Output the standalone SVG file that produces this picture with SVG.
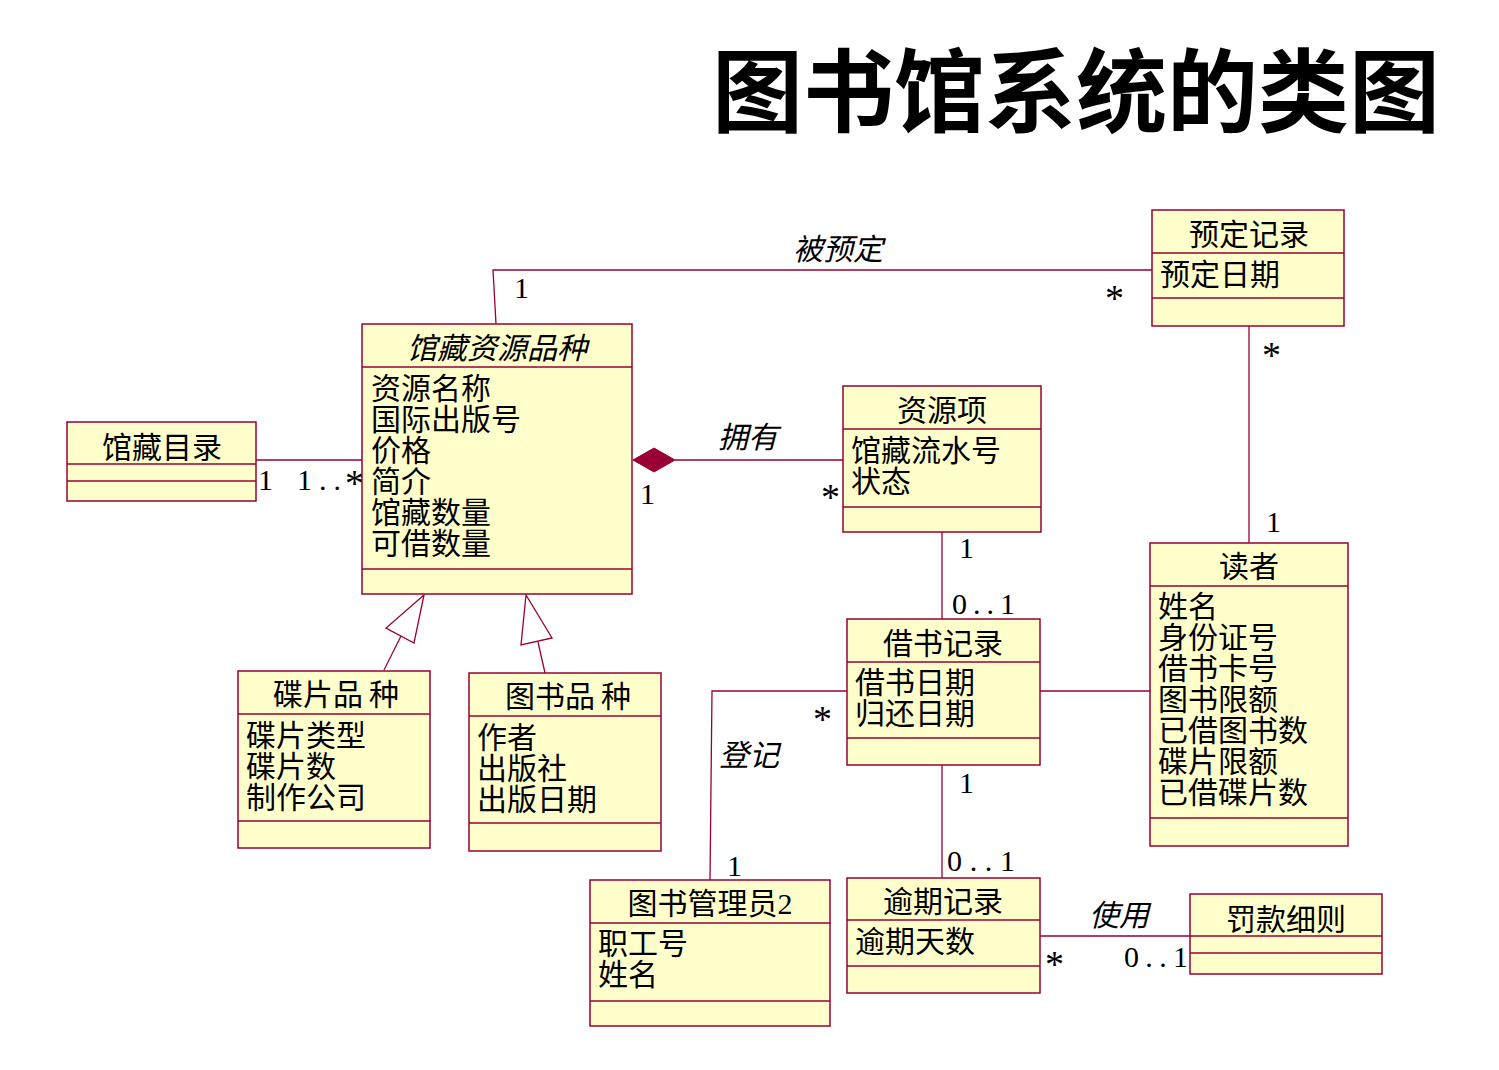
<svg xmlns="http://www.w3.org/2000/svg" width="1499" height="1070" viewBox="0 0 1499 1070">
<style>
.bx{fill:#ffffcc;stroke:#990033;stroke-width:1.5}
.sep{stroke:#990033;stroke-width:1.5}
.cn{fill:none;stroke:#990033;stroke-width:1.3}
.t{font-family:"Liberation Serif","Noto Sans CJK SC",serif;font-size:30px;fill:#000}
.c{text-anchor:middle}
.i{font-style:italic}
.m{font-family:"Liberation Serif","Noto Sans CJK SC",serif;font-size:30px;fill:#000}
.st{font-family:"Liberation Serif",serif;font-size:38px;fill:#000}
.title{font-family:"Noto Sans CJK SC",sans-serif;font-weight:bold;font-size:91px;fill:#000}
</style>
<rect width="1499" height="1070" fill="#ffffff"/>
<text class="title" x="712" y="125">图书馆系统的类图</text>

<g id="connectors">
  <polyline class="cn" points="496,324 493,270 1152,270"/>
  <line class="cn" x1="1249" y1="326" x2="1249" y2="543"/>
  <line class="cn" x1="256" y1="460" x2="362" y2="460"/>
  <line class="cn" x1="675" y1="460" x2="843" y2="460"/>
  <polygon points="633,460 654,448 675,460 654,472" fill="#990033" stroke="#990033" stroke-width="1"/>
  <line class="cn" x1="942" y1="532" x2="942" y2="619"/>
  <line class="cn" x1="1040" y1="691" x2="1150" y2="691"/>
  <polyline class="cn" points="847,691 712,691 710,880"/>
  <line class="cn" x1="942" y1="765" x2="942" y2="878"/>
  <line class="cn" x1="1040" y1="936" x2="1190" y2="936"/>
  <line class="cn" x1="384" y1="670" x2="401" y2="636"/>
  <polygon class="cn" points="424,595 386,628 414,643"/>
  <line class="cn" x1="545" y1="673" x2="538" y2="642"/>
  <polygon class="cn" points="526,595 521,645 552,638"/>
  <text class="t i c" x="838" y="260">被预定</text>
  <text class="t i c" x="748" y="448">拥有</text>
  <text class="t i c" x="749" y="766">登记</text>
  <text class="t i c" x="1119" y="926">使用</text>
  <text class="m" x="514" y="298">1</text>
  <text class="st" x="1105" y="311">*</text>
  <text class="st" x="1262" y="368">*</text>
  <text class="m" x="1266" y="532">1</text>
  <text class="m" x="258" y="490">1</text>
  <text class="m" x="297" y="490" textLength="44" lengthAdjust="spacing">1..</text>
  <text class="st" x="345" y="496">*</text>
  <text class="m" x="640" y="504">1</text>
  <text class="st" x="821" y="510">*</text>
  <text class="m" x="959" y="558">1</text>
  <text class="m" x="952" y="614" textLength="63" lengthAdjust="spacing">0..1</text>
  <text class="st" x="813" y="732">*</text>
  <text class="m" x="727" y="876">1</text>
  <text class="m" x="959" y="793">1</text>
  <text class="m" x="947" y="871" textLength="68" lengthAdjust="spacing">0..1</text>
  <text class="st" x="1045" y="977">*</text>
  <text class="m" x="1124" y="967" textLength="64" lengthAdjust="spacing">0..1</text>
</g>

<g id="n_catalog">
  <rect class="bx" x="67" y="422" width="189" height="79"/>
  <line class="sep" x1="67" y1="464" x2="256" y2="464"/>
  <line class="sep" x1="67" y1="481" x2="256" y2="481"/>
  <text class="t c" x="162" y="458">馆藏目录</text>
</g>

<g id="n_resource_kind">
  <rect class="bx" x="362" y="324" width="270" height="270"/>
  <line class="sep" x1="362" y1="367" x2="632" y2="367"/>
  <line class="sep" x1="362" y1="569" x2="632" y2="569"/>
  <text class="t i c" x="497" y="359">馆藏资源品种</text>
  <text class="t" x="371" y="399">资源名称</text>
  <text class="t" x="371" y="430">国际出版号</text>
  <text class="t" x="371" y="461">价格</text>
  <text class="t" x="371" y="492">简介</text>
  <text class="t" x="371" y="523">馆藏数量</text>
  <text class="t" x="371" y="554">可借数量</text>
</g>

<g id="n_reservation">
  <rect class="bx" x="1152" y="210" width="192" height="116"/>
  <line class="sep" x1="1152" y1="253" x2="1344" y2="253"/>
  <line class="sep" x1="1152" y1="298" x2="1344" y2="298"/>
  <text class="t c" x="1249" y="245">预定记录</text>
  <text class="t" x="1160" y="285">预定日期</text>
</g>

<g id="n_item">
  <rect class="bx" x="843" y="386" width="198" height="146"/>
  <line class="sep" x1="843" y1="429" x2="1041" y2="429"/>
  <line class="sep" x1="843" y1="507" x2="1041" y2="507"/>
  <text class="t c" x="942" y="421">资源项</text>
  <text class="t" x="851" y="461">馆藏流水号</text>
  <text class="t" x="851" y="492">状态</text>
</g>

<g id="n_reader">
  <rect class="bx" x="1150" y="543" width="198" height="303"/>
  <line class="sep" x1="1150" y1="586" x2="1348" y2="586"/>
  <line class="sep" x1="1150" y1="818" x2="1348" y2="818"/>
  <text class="t c" x="1249" y="577">读者</text>
  <text class="t" x="1158" y="617">姓名</text>
  <text class="t" x="1158" y="648">身份证号</text>
  <text class="t" x="1158" y="679">借书卡号</text>
  <text class="t" x="1158" y="710">图书限额</text>
  <text class="t" x="1158" y="741">已借图书数</text>
  <text class="t" x="1158" y="772">碟片限额</text>
  <text class="t" x="1158" y="803">已借碟片数</text>
</g>

<g id="n_borrow">
  <rect class="bx" x="847" y="619" width="193" height="146"/>
  <line class="sep" x1="847" y1="662" x2="1040" y2="662"/>
  <line class="sep" x1="847" y1="738" x2="1040" y2="738"/>
  <text class="t c" x="943" y="654">借书记录</text>
  <text class="t" x="855" y="693">借书日期</text>
  <text class="t" x="855" y="724">归还日期</text>
</g>

<g id="n_disc">
  <rect class="bx" x="238" y="671" width="192" height="177"/>
  <line class="sep" x1="238" y1="714" x2="430" y2="714"/>
  <line class="sep" x1="238" y1="821" x2="430" y2="821"/>
  <text class="t c" x="336" y="705">碟片品<tspan dx="6">种</tspan></text>
  <text class="t" x="246" y="746">碟片类型</text>
  <text class="t" x="246" y="777">碟片数</text>
  <text class="t" x="246" y="808">制作公司</text>
</g>

<g id="n_book">
  <rect class="bx" x="469" y="673" width="192" height="178"/>
  <line class="sep" x1="469" y1="716" x2="661" y2="716"/>
  <line class="sep" x1="469" y1="823" x2="661" y2="823"/>
  <text class="t c" x="568" y="707">图书品<tspan dx="6">种</tspan></text>
  <text class="t" x="477" y="748">作者</text>
  <text class="t" x="477" y="779">出版社</text>
  <text class="t" x="477" y="810">出版日期</text>
</g>

<g id="n_librarian">
  <rect class="bx" x="590" y="880" width="240" height="146"/>
  <line class="sep" x1="590" y1="923" x2="830" y2="923"/>
  <line class="sep" x1="590" y1="1001" x2="830" y2="1001"/>
  <text class="t c" x="710" y="914">图书管理员2</text>
  <text class="t" x="598" y="954">职工号</text>
  <text class="t" x="598" y="985">姓名</text>
</g>

<g id="n_overdue">
  <rect class="bx" x="847" y="878" width="193" height="115"/>
  <line class="sep" x1="847" y1="920" x2="1040" y2="920"/>
  <line class="sep" x1="847" y1="966" x2="1040" y2="966"/>
  <text class="t c" x="943" y="912">逾期记录</text>
  <text class="t" x="855" y="952">逾期天数</text>
</g>

<g id="n_fine">
  <rect class="bx" x="1190" y="894" width="192" height="80"/>
  <line class="sep" x1="1190" y1="936" x2="1382" y2="936"/>
  <line class="sep" x1="1190" y1="953" x2="1382" y2="953"/>
  <text class="t c" x="1286" y="930">罚款细则</text>
</g>
</svg>
